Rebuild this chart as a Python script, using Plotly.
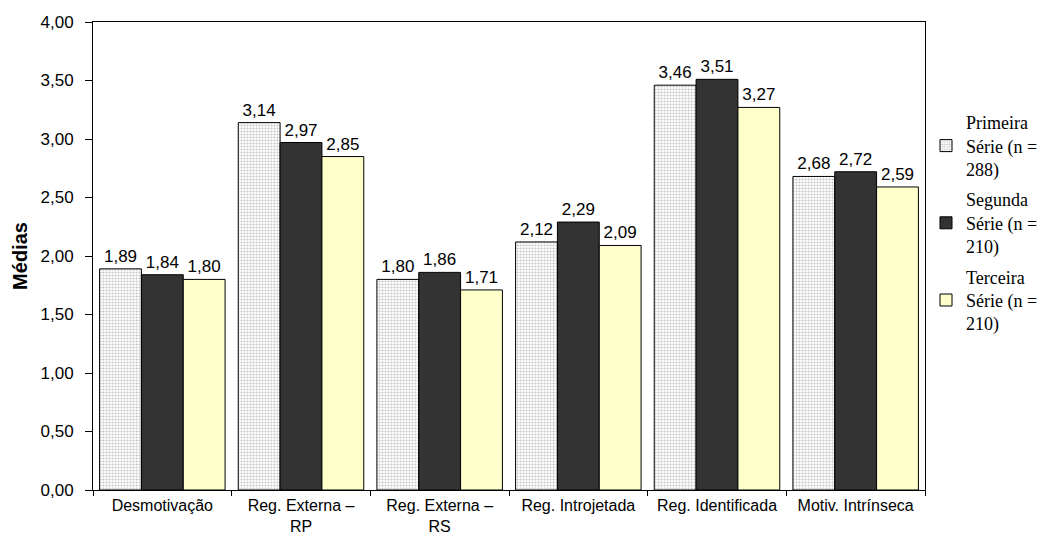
import plotly.graph_objects as go

categories = ["Desmotivação", "Reg. Externa –<br>RP", "Reg. Externa –<br>RS",
              "Reg. Introjetada", "Reg. Identificada", "Motiv. Intrínseca"]
series_names = ["Primeira<br>Série (n =<br>288)",
                "Segunda<br>Série (n =<br>210)",
                "Terceira<br>Série (n =<br>210)"]
primeira = [1.89, 3.14, 1.80, 2.12, 3.46, 2.68]
segunda = [1.84, 2.97, 1.86, 2.29, 3.51, 2.72]
terceira = [1.80, 2.85, 1.71, 2.09, 3.27, 2.59]
y_ticks = [0, 0.5, 1.0, 1.5, 2.0, 2.5, 3.0, 3.5, 4.0]

fig = go.Figure()

styles = [
    dict(color="#f4f4f4", pattern=dict(shape=".", fgcolor="#8c8c8c", bgcolor="#ffffff",
                                       size=3, solidity=0.4)),
    dict(color="#333333"),
    dict(color="#ffffcc"),
]

for i, (name, vals, st) in enumerate(zip(series_names, [primeira, segunda, terceira], styles)):
    fig.add_trace(go.Bar(
        x=categories, y=vals, name=name, legendgroup=f"serie{i + 1}",
        marker=dict(line=dict(color="#000000", width=1), **st),
        text=[f"{v:.2f}".replace(".", ",") for v in vals],
        textposition="outside",
        textfont=dict(family="Liberation Sans, Arial", size=17, color="#000000"),
        cliponaxis=False,
    ))

fig.update_layout(
    width=1043, height=535,
    margin=dict(l=93, r=118, t=22, b=45, autoexpand=False),
    paper_bgcolor="white", plot_bgcolor="white",
    barmode="group", bargap=0.095, bargroupgap=0,
    separators=",.",
    font=dict(family="Liberation Sans, Arial", size=15, color="#000000"),
    legend=dict(
        xref="container", yref="container",
        x=926 / 1043, y=1 - 104 / 535,
        xanchor="left", yanchor="top",
        font=dict(family="Liberation Serif, Times New Roman, serif", size=18, color="#000000"),
        tracegroupgap=4, itemwidth=30,
        bgcolor="rgba(0,0,0,0)",
    ),
    showlegend=True,
)

fig.update_xaxes(
    showline=True, linecolor="#000000", linewidth=1, mirror=True,
    ticks="outside", tickson="boundaries", ticklen=5, tickcolor="#000000",
    tickfont=dict(size=16), ticklabelstandoff=1, showgrid=False, automargin=False,
)
fig.update_yaxes(
    range=[0, 4], tickvals=y_ticks, tickformat=".2f",
    showline=True, linecolor="#000000", linewidth=1, mirror=True,
    ticks="outside", ticklen=7, tickcolor="#000000",
    tickfont=dict(size=17), ticklabelstandoff=8, showgrid=False, zeroline=False,
    automargin=False,
    title=dict(text="<b>Médias</b>", font=dict(size=20), standoff=7),
)

fig.write_html("out.html")
